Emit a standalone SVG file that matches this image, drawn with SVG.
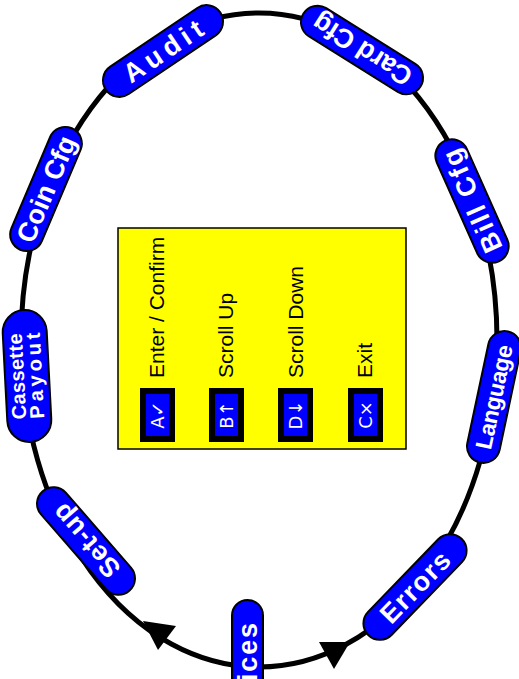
<svg xmlns="http://www.w3.org/2000/svg" width="519" height="679" viewBox="0 0 519 679">
<style>
.pill{fill:#0000FF;stroke:#000;stroke-width:2}
.pt{fill:#fff;font-family:"Liberation Sans",Arial,sans-serif;font-weight:bold;font-size:27px;text-anchor:middle}
.pt2{fill:#fff;font-family:"Liberation Sans",Arial,sans-serif;font-weight:bold;font-size:20px;text-anchor:middle}
.lbl{fill:#000;font-family:"Liberation Sans",Arial,sans-serif;font-size:21px}
.kout{fill:#000}
.kin{fill:#0000FF}
.kt{fill:#fff;font-family:"DejaVu Sans",sans-serif;font-size:18px;text-anchor:middle}
</style>
<rect width="519" height="679" fill="#fff"/>
<g id="connectors">
<ellipse cx="259" cy="340" rx="238" ry="327" fill="none" stroke="#000" stroke-width="5"/>
<polygon points="143,621 176,626 158,650" fill="#000"/>
<polygon points="350,642 334,669 319,642" fill="#000"/>
</g>
<g id="legend">
<rect x="118" y="228" width="288" height="221" fill="#FFFF00" stroke="#000" stroke-width="1.5"/>
<text class="lbl" transform="translate(164,378) rotate(-90)">Enter / Confirm</text>
<text class="lbl" transform="translate(233,378) rotate(-90)">Scroll Up</text>
<text class="lbl" transform="translate(303,378) rotate(-90)">Scroll Down</text>
<text class="lbl" transform="translate(372,378) rotate(-90)">Exit</text>
<g id="key-a"><rect class="kout" x="140" y="388" width="35" height="54"/><rect class="kin" x="146" y="394" width="23" height="42"/><text class="kt" transform="translate(164,415) rotate(-90)">A✓</text></g>
<g id="key-b"><rect class="kout" x="209" y="388" width="35" height="54"/><rect class="kin" x="215" y="394" width="23" height="42"/><text class="kt" transform="translate(233,415) rotate(-90)">B↑</text></g>
<g id="key-d"><rect class="kout" x="278" y="388" width="35" height="54"/><rect class="kin" x="284" y="394" width="23" height="42"/><text class="kt" transform="translate(302,415) rotate(-90)">D↓</text></g>
<g id="key-c"><rect class="kout" x="348" y="388" width="35" height="54"/><rect class="kin" x="354" y="394" width="23" height="42"/><text class="kt" transform="translate(372,415) rotate(-90)">C×</text></g>
</g>
<g id="audit" transform="translate(163,51) rotate(-34)"><rect class="pill" x="-69" y="-16.5" width="138" height="33" rx="16.5"/><text class="pt" x="0" y="9.5" textLength="90">Audit</text></g>
<g id="card-cfg" transform="translate(362,50) rotate(212)"><rect class="pill" x="-69" y="-16.5" width="138" height="33" rx="16.5"/><text class="pt" x="0" y="9.5" textLength="112">Card Cfg</text></g>
<g id="coin-cfg" transform="translate(46,189) rotate(-67)"><rect class="pill" x="-66" y="-16.5" width="132" height="33" rx="16.5"/><text class="pt" x="0" y="9.5" textLength="113">Coin Cfg</text></g>
<g id="bill-cfg" transform="translate(472,201) rotate(-114)"><rect class="pill" x="-66" y="-16.5" width="132" height="33" rx="16.5"/><text class="pt" x="0" y="9.5" textLength="110">Bill Cfg</text></g>
<g id="cassette-payout" transform="translate(27,376) rotate(-93)"><rect class="pill" x="-66" y="-22" width="132" height="44" rx="22"/><text class="pt2" x="0" y="-3" textLength="86">Cassette</text><text class="pt2" x="0" y="15" textLength="86">Payout</text></g>
<g id="language" transform="translate(494,397) rotate(-78)"><rect class="pill" x="-67" y="-16.5" width="134" height="33" rx="16.5"/><text class="pt" style="font-size:23px" x="0" y="8" textLength="106">Language</text></g>
<g id="set-up" transform="translate(86,541) rotate(229)"><rect class="pill" x="-66" y="-16.5" width="132" height="33" rx="16.5"/><text class="pt" x="0" y="9.5" textLength="88">Set-up</text></g>
<g id="errors" transform="translate(415,587) rotate(-46)"><rect class="pill" x="-67" y="-16.5" width="134" height="33" rx="16.5"/><text class="pt" x="0" y="9.5" textLength="88">Errors</text></g>
<g id="prices"><rect class="pill" x="232" y="600" width="31" height="130" rx="15.5"/><text class="pt" style="text-anchor:start" transform="translate(257,713) rotate(-90)" textLength="90">Prices</text></g>
</svg>
